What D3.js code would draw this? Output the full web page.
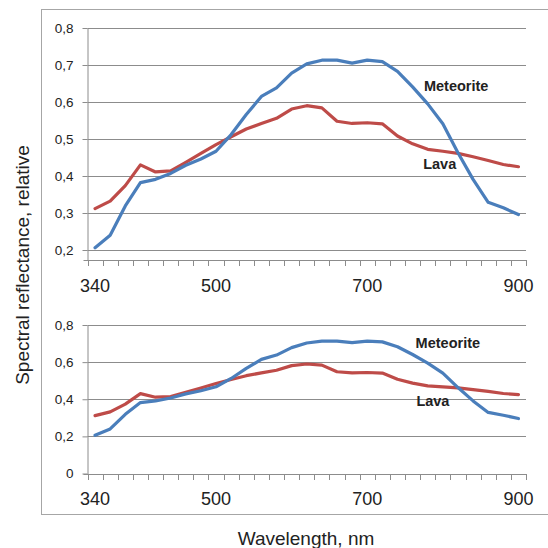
<!DOCTYPE html>
<html>
<head>
<meta charset="utf-8">
<script src="https://cdn.jsdelivr.net/npm/d3@7"></script>
<style>
  body { margin: 0; background: #fff; }
  text { font-family: Arial, "Liberation Sans", sans-serif; fill: #222; }
</style>
</head>
<body>
<script>
// Data
const wavelengths = [340, 360, 380, 400, 420, 440, 460, 480, 500, 520, 540, 560, 580, 600, 620,
                     640, 660, 680, 700, 720, 740, 760, 780, 800, 820, 840, 860, 880, 900];
const meteorite = [0.206, 0.240, 0.319, 0.382, 0.391, 0.407, 0.429, 0.446, 0.467, 0.512, 0.566, 0.615, 0.638, 0.678, 0.703,
                   0.713, 0.713, 0.705, 0.713, 0.709, 0.683, 0.641, 0.595, 0.541, 0.463, 0.391, 0.329, 0.314, 0.296];
const lava = [0.312, 0.332, 0.374, 0.430, 0.411, 0.414, 0.437, 0.461, 0.485, 0.506, 0.527, 0.542, 0.556, 0.581, 0.590,
              0.584, 0.548, 0.542, 0.544, 0.541, 0.508, 0.487, 0.472, 0.467, 0.461, 0.452, 0.442, 0.431, 0.425];
const xTickLabels = [340, 500, 700, 900];
const yTicksTop = [0.2, 0.3, 0.4, 0.5, 0.6, 0.7, 0.8];
const yTicksBottom = [0, 0.2, 0.4, 0.6, 0.8];
// label, wavelength, value (top chart / bottom chart)
const labelsTop = [["Meteorite", 775, 0.629], ["Lava", 774, 0.418]];
const labelsBottom = [["Meteorite", 764, 0.674], ["Lava", 765, 0.363]];

const width = 548;
const height = 548;
const xLeft = 87.5;
const xRight = 526;
const blue = "#4a7ebb";
const red = "#be4b48";
const gridColor = "#8c8c8c";

const svg = d3.select("body")
      .append("svg")
      .attr("width", width)
      .attr("height", height);

// outer frame
svg.append("rect")
    .attr("x", 41.5)
    .attr("y", 9.5)
    .attr("width", 540)
    .attr("height", 505)
    .attr("fill", "none")
    .attr("stroke", "#a6a6a6");

// category x scale (one band per wavelength)
const x = d3.scaleBand()
      .domain(wavelengths)
      .range([xLeft, xRight]);
const xc = w => x(w) + x.bandwidth() / 2;

const yTop = d3.scaleLinear().domain([0.173, 0.8]).range([260, 28]);
const yBottom = d3.scaleLinear().domain([0, 0.8]).range([473.5, 325]);

const fmt = d => d === 0 ? "0" : d.toFixed(1).replace(".", ",");

// draws one panel
const drawPanel = (y, yTicks, labels, labelY) => {
    const g = svg.append("g");
    const yBase = y.range()[0];

    // gridlines
    g.selectAll(".grid")
        .data(yTicks.filter(d => y(d) < yBase - 1))
        .join("line")
        .attr("x1", xLeft)
        .attr("x2", xRight)
        .attr("y1", d => Math.round(y(d)) + 0.5)
        .attr("y2", d => Math.round(y(d)) + 0.5)
        .attr("stroke", gridColor);

    // y axis
    const yAxis = g.append("g")
        .attr("transform", `translate(${xLeft},0)`)
        .call(d3.axisLeft(y).tickValues(yTicks).tickSize(5).tickSizeOuter(0).tickFormat(fmt).tickPadding(9));
    yAxis.select(".domain").attr("stroke", gridColor);
    yAxis.selectAll(".tick line").attr("stroke", gridColor);
    yAxis.selectAll(".tick text")
        .attr("font-size", 13.5)
        .attr("font-family", "Arial, 'Liberation Sans', sans-serif")
        .attr("fill", "#222");

    // x axis line and ticks at category boundaries
    g.append("line")
        .attr("x1", xLeft - 4)
        .attr("x2", xRight)
        .attr("y1", Math.round(yBase) + 0.5)
        .attr("y2", Math.round(yBase) + 0.5)
        .attr("stroke", gridColor);
    g.selectAll(".xtick")
        .data(wavelengths.map(w => x(w)).concat([xRight]))
        .join("line")
        .attr("class", "xtick")
        .attr("x1", d => Math.round(d) + 0.5)
        .attr("x2", d => Math.round(d) + 0.5)
        .attr("y1", Math.round(yBase))
        .attr("y2", Math.round(yBase) + 6)
        .attr("stroke", gridColor);

    g.selectAll(".xlabel")
        .data(xTickLabels)
        .join("text")
        .attr("x", d => xc(d))
        .attr("y", labelY)
        .attr("text-anchor", "middle")
        .attr("font-size", 18)
        .text(d => d);

    // lines
    const line = d3.line()
        .x((d, i) => xc(wavelengths[i]))
        .y(d => y(d));
    [[lava, red], [meteorite, blue]].forEach(([vals, col]) => {
        g.append("path")
            .attr("d", line(vals))
            .attr("fill", "none")
            .attr("stroke", col)
            .attr("stroke-width", 3.2)
            .attr("stroke-linejoin", "round")
            .attr("stroke-linecap", "round");
    });

    // series labels
    const wl = d3.scaleLinear().domain([340, 900]).range([xc(340), xc(900)]);
    g.selectAll(".slabel")
        .data(labels)
        .join("text")
        .attr("x", d => wl(d[1]))
        .attr("y", d => y(d[2]))
        .attr("font-size", 14.5)
        .attr("font-weight", "bold")
        .attr("fill", "#111")
        .text(d => d[0]);
}

drawPanel(yTop, yTicksTop, labelsTop, 292);
drawPanel(yBottom, yTicksBottom, labelsBottom, 505);

// axis titles
svg.append("text")
    .attr("transform", "translate(29,265) rotate(-90)")
    .attr("text-anchor", "middle")
    .attr("font-size", 19)
    .attr("fill", "#333")
    .text("Spectral reflectance, relative");

svg.append("text")
    .attr("x", 306)
    .attr("y", 545)
    .attr("text-anchor", "middle")
    .attr("font-size", 19)
    .attr("fill", "#333")
    .text("Wavelength, nm");
</script>
</body>
</html>
